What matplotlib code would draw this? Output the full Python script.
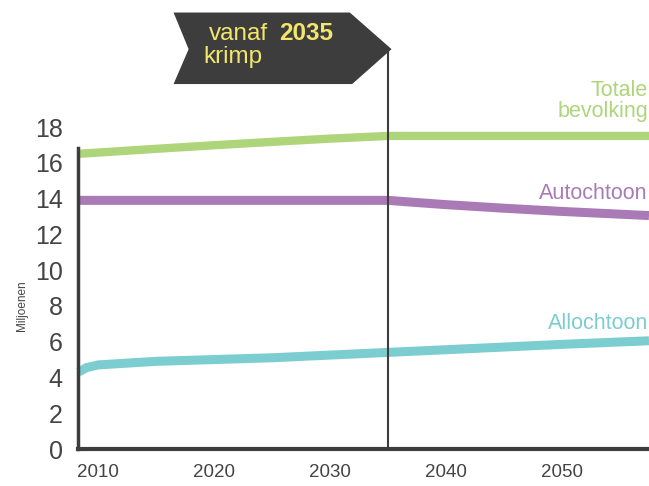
import matplotlib
matplotlib.use("Agg")
import matplotlib.pyplot as plt
from matplotlib.patches import Polygon

plt.rcParams['font.family'] = ['Liberation Sans', 'DejaVu Sans']

# data (millions)
totaal_jaar = [2008.3, 2015, 2020, 2025, 2030, 2035, 2045, 2057.5]
totaal = [16.5, 16.78, 16.98, 17.17, 17.35, 17.5, 17.5, 17.5]

autochtoon_jaar = [2008.3, 2020, 2035, 2037, 2040, 2045, 2050, 2057.5]
autochtoon = [13.9, 13.9, 13.9, 13.8, 13.66, 13.46, 13.28, 13.05]

allochtoon_jaar = [2008.3, 2009, 2010, 2015, 2020, 2025, 2030, 2035, 2040, 2045, 2050, 2057.5]
allochtoon = [4.3, 4.55, 4.7, 4.9, 5.0, 5.1, 5.25, 5.4, 5.55, 5.7, 5.85, 6.05]

x_ticks = [2010, 2020, 2030, 2040, 2050]
y_ticks = [0, 2, 4, 6, 8, 10, 12, 14, 16, 18]
krimp_jaar = 2035

groen = '#aed57a'
paars = '#a97ab6'
turkoois = '#7ccdcf'
donker = '#3d3d3d'
geel = '#f2e66c'

fig = plt.figure(figsize=(6.49, 4.86), dpi=100)
ax = fig.add_axes([78 / 649, 37 / 486, 1 - 78 / 649, (449 - 127) / 486])

ax.plot(totaal_jaar, totaal, color=groen, lw=6, solid_capstyle='butt', clip_on=False)
ax.plot(autochtoon_jaar, autochtoon, color=paars, lw=6.5, solid_capstyle='butt', clip_on=False)
ax.plot(allochtoon_jaar, allochtoon, color=turkoois, lw=6.5, solid_capstyle='butt', clip_on=False)

ax.set_xlim(2008.26, 2057.5)
ax.set_ylim(0, 18)

# vertical marker line up to the banner tip
ax.plot([krimp_jaar, krimp_jaar], [0, 22.3], color=donker, lw=1.5, clip_on=False, zorder=3)

# banner
banner = Polygon([(2016.5, 24.4), (2031.7, 24.4), (krimp_jaar + 0.3, 22.35),
                  (2031.9, 20.4), (2016.5, 20.4), (2017.8, 22.35)],
                 closed=True, facecolor=donker, edgecolor='none', clip_on=False, zorder=4)
ax.add_patch(banner)
ax.text(2019.57, 22.85, 'vanaf', color=geel, fontsize=17.5, fontweight='light',
        ha='left', va='baseline', zorder=5)
ax.text(2025.6, 22.85, str(krimp_jaar), color=geel, fontsize=17.5, fontweight='bold',
        ha='left', va='baseline', zorder=5)
ax.text(2019.05, 21.56, 'krimp', color=geel, fontsize=17.5, fontweight='light',
        ha='left', va='baseline', zorder=5)

# series labels
ax.text(2057.4, 19.45, 'Totale\nbevolking', color=groen, fontsize=15.5, ha='right',
        va='center', linespacing=0.95)
ax.text(2057.4, 14.3, 'Autochtoon', color=paars, fontsize=15.5, ha='right', va='center')
ax.text(2057.4, 7.04, 'Allochtoon', color=turkoois, fontsize=15.5, ha='right', va='center')

for s in ['top', 'right']:
    ax.spines[s].set_visible(False)
ax.spines['left'].set_color(donker)
ax.spines['left'].set_linewidth(2.5)
ax.spines['left'].set_bounds(0, 16.85)
ax.spines['bottom'].set_color(donker)
ax.spines['bottom'].set_linewidth(3)

ax.set_xticks(x_ticks)
ax.set_yticks(y_ticks)
ax.tick_params(axis='y', length=0, pad=11, labelsize=18, labelcolor='#444444')
ax.tick_params(axis='x', length=0, pad=11, labelsize=13.5, labelcolor='#444444')

fig.text(22 / 649, 1 - 306 / 486, 'Miljoenen', rotation=90, fontsize=8.5,
         color='#444444', ha='center', va='center')

fig.savefig('out.png', dpi=100)
